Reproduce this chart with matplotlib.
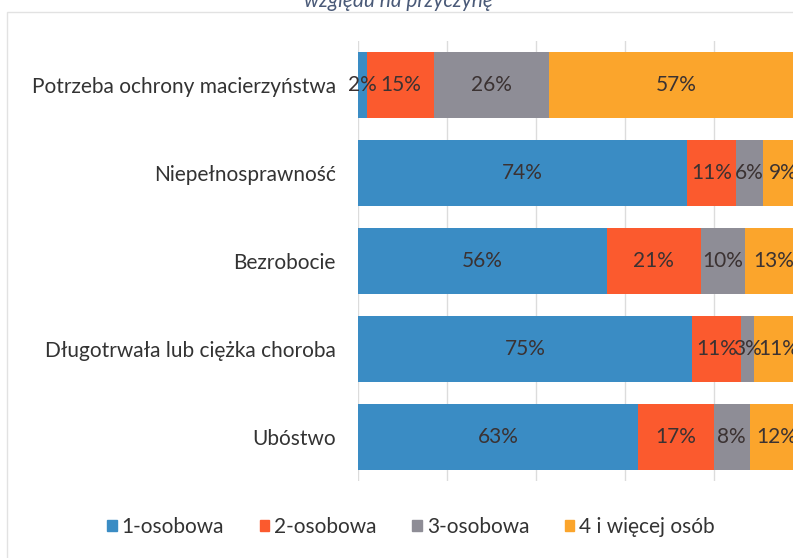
import matplotlib
matplotlib.use("Agg")
import matplotlib.pyplot as plt
from matplotlib.patches import Rectangle
import numpy as np

plt.rcParams['font.family'] = ['Lato', 'DejaVu Sans']

categories = ["Potrzeba ochrony macierzyństwa", "Niepełnosprawność", "Bezrobocie",
              "Długotrwała lub ciężka choroba", "Ubóstwo"]
series_names = ["1-osobowa", "2-osobowa", "3-osobowa", "4 i więcej osób"]
s1 = [2, 74, 56, 75, 63]
s2 = [15, 11, 21, 11, 17]
s3 = [26, 6, 10, 3, 8]
s4 = [57, 9, 13, 11, 12]
colors = ["#3a8cc4", "#fb5a2e", "#8e8d96", "#fba52c"]

W, H = 793, 558
fig = plt.figure(figsize=(W / 100, H / 100), dpi=100)
ax = fig.add_axes([358 / W, 1 - 481 / H, 445 / W, 440 / H])

y = np.arange(len(categories))
left = np.zeros(len(categories))
for vals, col, name in zip([s1, s2, s3, s4], colors, series_names):
    v = np.array(vals) / 100.0
    ax.barh(y, v, left=left, height=0.75, color=col, label=name, zorder=2)
    for yi, l, w, raw in zip(y, left, v, vals):
        ax.text(l + w / 2, yi, f"{raw}%", ha="center", va="center",
                fontsize=15, color="#3b3232", zorder=3)
    left += v

ax.set_xlim(0, 1)
ax.set_ylim(len(categories) - 0.5, -0.5)
ax.set_xticks(np.arange(0, 1.01, 0.2))
ax.xaxis.grid(True, color="#dcdcdc", linewidth=1, zorder=0)
ax.tick_params(axis="x", length=0, labelbottom=False)
ax.tick_params(axis="y", length=0, pad=16, labelsize=15, labelcolor="#333333")
ax.set_yticks(y)
ax.set_yticklabels(categories)
for s in ax.spines.values():
    s.set_visible(False)

# chart frame
fig.add_artist(Rectangle((7 / W, -0.1), 1.2, 1 - 12 / H + 0.1, transform=fig.transFigure,
                         fill=False, edgecolor="#e2e2e2", linewidth=1))

fig.text(398 / W, 1 - 7 / H, "względu na przyczynę", ha="center", va="baseline",
         fontsize=15, style="italic", color="#4a5a78")

handles = [Rectangle((0, 0), 1, 1, color=c) for c in colors]
fig.legend(handles, series_names, loc="center", bbox_to_anchor=(411 / W, 1 - 527 / H),
           ncol=4, frameon=False, fontsize=15, handlelength=0.45, handleheight=0.45,
           handletextpad=0.25, columnspacing=1.7, labelcolor="#333333")

fig.savefig("out.png", dpi=100)
